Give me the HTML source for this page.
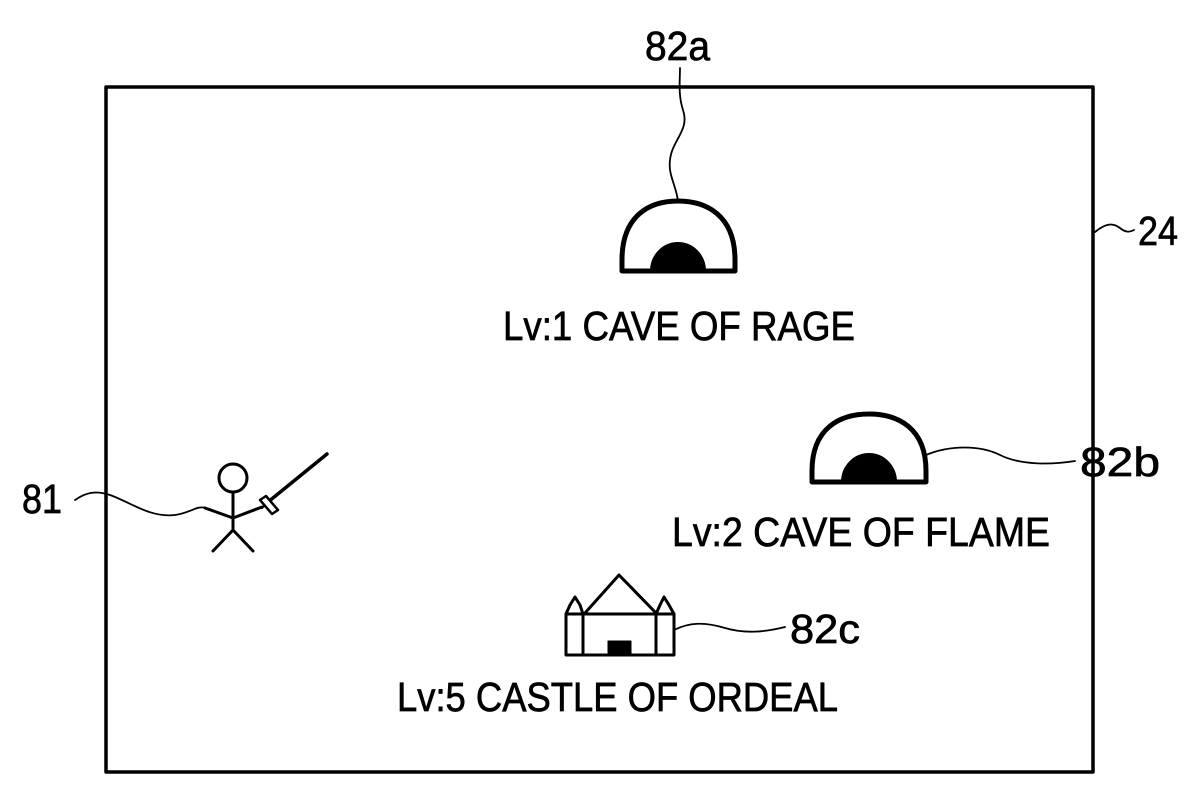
<!DOCTYPE html>
<html><head><style>body{margin:0;background:#fff}svg{display:block}</style></head>
<body>
<svg width="1200" height="798" viewBox="0 0 1200 798" xmlns="http://www.w3.org/2000/svg">
<g fill="none" stroke="#000" stroke-linecap="round" stroke-linejoin="round">
<rect x="106" y="87" width="987" height="685" stroke-width="3.5"/>
<path d="M622,271 L622,260 C622,215 650,201 678,201 C706,201 735,215 735,260 L735,271 Z" stroke-width="5"/>
<path d="M651,271 A27,28 0 0 1 705,271 Z" fill="#000" stroke-width="2"/>
<path d="M678,201 C676,185 668,175 670,160 C672,140 690,130 683,110 C678,95 680,80 680,68" stroke-width="1.8"/>
<path d="M812,482 L812,471 C812,428 840,414 869,414 C898,414 926,428 926,471 L926,482 Z" stroke-width="5"/>
<path d="M842,482 A27,28 0 0 1 896,482 Z" fill="#000" stroke-width="2"/>
<path d="M926,455 C950,445 980,445 1000,455 C1020,465 1050,465 1075,461" stroke-width="1.8"/>
<path d="M1095,232 C1105,224 1112,222 1120,228 C1126,233 1130,232 1134,230" stroke-width="1.8"/>
<rect x="566" y="614" width="108" height="41" stroke-width="3"/>
<line x1="583" y1="614" x2="583" y2="655" stroke-width="3"/>
<line x1="656" y1="614" x2="656" y2="655" stroke-width="3"/>
<path d="M566,614 L570,605 L575,597 L580,605 L583,614" stroke-width="3"/>
<path d="M656,614 L660,605 L664,597 L669,605 L674,614" stroke-width="3"/>
<path d="M585,613 L619,575 L656,613" stroke-width="3"/>
<rect x="608" y="641" width="23" height="14" fill="#000" stroke-width="1"/>
<path d="M674,630 C690,622 705,622 725,628 C745,634 765,632 785,627" stroke-width="1.8"/>
<circle cx="233" cy="478" r="14" stroke-width="3"/>
<path d="M233,492 L233,530 M233,530 L213,551 M233,530 L253,551 M205,508 L233,518 L262,507" stroke-width="3"/>
<path d="M268,502 L327,454" stroke-width="3.5"/>
<path d="M262,508 L268,502" stroke-width="2"/>
<path d="M260,500 L266,496 L278,510 L272,514 Z" stroke-width="2.5" fill="#fff"/>
<path d="M75,500 C85,493 95,490 110,495 C130,502 150,518 175,515 C190,513 198,505 205,508" stroke-width="1.8"/>
</g>
<g font-family="Liberation Sans, sans-serif" font-size="41" fill="#000" stroke="#000" stroke-width="0.7">
<text x="645" y="60" textLength="65" lengthAdjust="spacingAndGlyphs">82a</text>
<text x="1138" y="245" textLength="40" lengthAdjust="spacingAndGlyphs">24</text>
<text x="1080" y="476" textLength="80" lengthAdjust="spacingAndGlyphs">82b</text>
<text x="790" y="643" textLength="70" lengthAdjust="spacingAndGlyphs">82c</text>
<text x="22" y="513" textLength="40" lengthAdjust="spacingAndGlyphs">81</text>
<text x="503" y="340" textLength="352" lengthAdjust="spacingAndGlyphs">Lv:1 CAVE OF RAGE</text>
<text x="672" y="546" textLength="378" lengthAdjust="spacingAndGlyphs">Lv:2 CAVE OF FLAME</text>
<text x="397" y="711" textLength="441" lengthAdjust="spacingAndGlyphs">Lv:5 CASTLE OF ORDEAL</text>
</g>
</svg>
</body></html>
